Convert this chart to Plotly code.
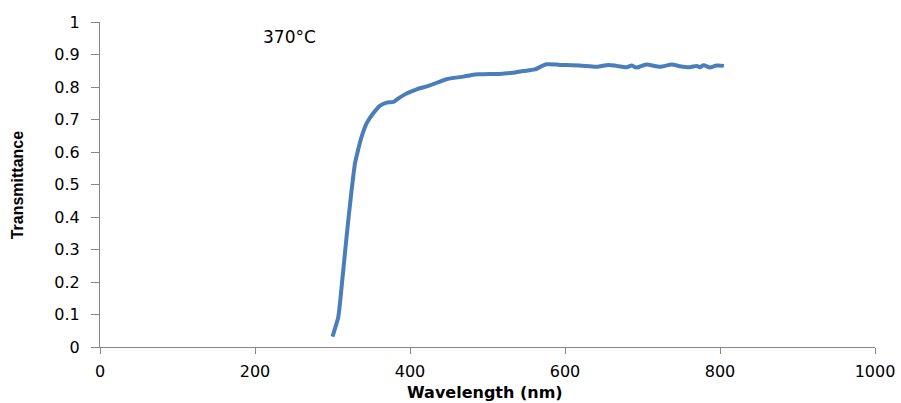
import plotly.graph_objects as go

wavelength = [300, 303, 307.5, 311.8, 316, 320.4, 324.7, 329, 333, 337.6, 344, 352.6, 361, 370, 378.5,
              387, 395.7, 408.6, 425.8, 447, 469, 481.7, 490, 503, 516, 533, 546, 561, 576, 593.5,
              619, 641, 656, 666.6, 679.5, 686, 692, 705, 722.6, 737.6, 748, 761, 770, 774, 779,
              787, 795.7, 805]
transmittance = [0.032, 0.055, 0.093, 0.186, 0.288, 0.391, 0.483, 0.565, 0.606, 0.647, 0.688, 0.719, 0.742,
                 0.752, 0.754, 0.768, 0.780, 0.793, 0.805, 0.824, 0.832, 0.838, 0.839, 0.840, 0.840,
                 0.844, 0.849, 0.854, 0.870, 0.868, 0.866, 0.862, 0.868, 0.865, 0.861, 0.866, 0.860,
                 0.869, 0.862, 0.869, 0.864, 0.861, 0.865, 0.861, 0.867, 0.860, 0.866, 0.865]
ytick_vals = [0, 0.1, 0.2, 0.3, 0.4, 0.5, 0.6, 0.7, 0.8, 0.9, 1]
ytick_text = ["0", "0.1", "0.2", "0.3", "0.4", "0.5", "0.6", "0.7", "0.8", "0.9", "1"]
xtick_vals = [0, 200, 400, 600, 800, 1000]

fig = go.Figure()
fig.add_trace(go.Scatter(x=wavelength, y=transmittance, mode="lines",
                         line=dict(color="#4A7EBB", width=4, shape="spline", smoothing=0.6),
                         showlegend=False))

fig.add_annotation(x=245, y=0.955, text="370°C", showarrow=False,
                   font=dict(family="DejaVu Sans", size=17, color="black"))
fig.add_annotation(xref="paper", yref="paper", x=-0.106, y=0.5, text="<b>Transmittance</b>",
                   textangle=-90, showarrow=False, xanchor="center", yanchor="middle",
                   font=dict(family="Liberation Sans Narrow, Liberation Sans", size=16, color="black"))
fig.add_annotation(xref="paper", yref="paper", x=0.497, y=-0.1415, text="<b>Wavelength (nm)</b>",
                   showarrow=False, xanchor="center", yanchor="middle",
                   font=dict(family="DejaVu Sans", size=16, color="black"))

axis_font = dict(family="DejaVu Sans", size=16, color="black")
fig.update_layout(
    width=901, height=403,
    margin=dict(l=100, r=26, t=22, b=56),
    paper_bgcolor="white", plot_bgcolor="white",
    xaxis=dict(range=[0, 1000], tickvals=xtick_vals, showgrid=False, automargin=False,
               zeroline=False, showline=True, linecolor="#868686", linewidth=1,
               ticks="outside", ticklen=6, tickcolor="#868686", tickfont=axis_font,
               ticklabelstandoff=4),
    yaxis=dict(range=[0, 1], tickvals=ytick_vals, ticktext=ytick_text, automargin=False,
               showgrid=False, zeroline=False, showline=True, linecolor="#868686", linewidth=1,
               ticks="outside", ticklen=8, tickcolor="#868686", tickfont=axis_font,
               ticklabelstandoff=8),
)
fig.write_html("out.html")
